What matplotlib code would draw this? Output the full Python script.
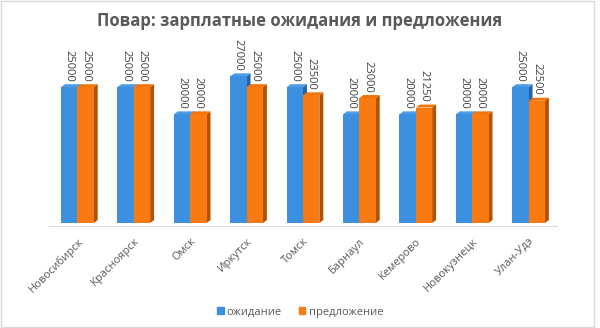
import matplotlib
matplotlib.use("Agg")
import matplotlib.pyplot as plt
import numpy as np
from matplotlib.patches import Rectangle

plt.rcParams["font.family"] = ["Open Sans", "DejaVu Sans"]

cities = ["Новосибирск", "Красноярск", "Омск", "Иркутск", "Томск",
          "Барнаул", "Кемерово", "Новокузнецк", "Улан-Удэ"]
expected = [25000, 25000, 20000, 27000, 25000, 20000, 20000, 20000, 25000]
offered = [25000, 25000, 20000, 25000, 23500, 23000, 21250, 20000, 22500]
series_names = ["ожидание", "предложение"]

# front, side, top colours per series
BLUE = ("#3d8fe0", "#2563a6", "#4f9ce6")
ORANGE = ("#fa7a12", "#b35200", "#f0730c")
TEXT = "#595959"

fig = plt.figure(figsize=(6, 3.28), dpi=100)
ax = fig.add_axes([0.082, 1 - 223 / 328, 0.846, 163 / 328])

x = np.arange(len(cities))
w = 0.29
dx, dy = 0.07, 550  # fake depth for the 3D look

for vals, off, (c, cs, ct) in [(expected, -w / 2, BLUE), (offered, w / 2, ORANGE)]:
    vals = np.array(vals)
    ax.bar(x + off, vals, width=w, color=c, zorder=3)
    for xi, v in zip(x + off, vals):
        r = xi + w / 2
        ax.fill([r, r + dx, r + dx, r], [0, dy, v + dy, v], color=cs, zorder=2, lw=0)
        ax.fill([xi - w / 2, xi - w / 2 + dx, r + dx, r], [v, v + dy, v + dy, v],
                color=ct, zorder=2, lw=0)
        ax.text(xi, v + 1000, str(v), rotation=270, ha="center", va="bottom",
                fontsize=8, color="#404040", clip_on=False)

ax.set_xlim(-0.5, len(cities) - 0.5)
ax.set_ylim(0, 30000)
ax.set_yticks([])
for s in ["left", "right", "top"]:
    ax.spines[s].set_visible(False)
ax.spines["bottom"].set_color("#d9d9d9")
ax.spines["bottom"].set_position(("data", -550))
ax.set_xticks(x)
ax.set_xticklabels(cities, rotation=45, ha="right", va="top",
                   rotation_mode="anchor", fontsize=8, color=TEXT)
ax.tick_params(axis="x", length=0, pad=7)

fig.text(0.5, 0.935, "Повар: зарплатные ожидания и предложения",
         ha="center", va="center", fontsize=12, fontweight="bold", color=TEXT)

handles = [Rectangle((0, 0), 1, 1, color=BLUE[0]), Rectangle((0, 0), 1, 1, color=ORANGE[0])]
fig.legend(handles, series_names, loc="center", bbox_to_anchor=(0.5, 1 - 312 / 328),
           ncol=2, frameon=False, fontsize=8, labelcolor=TEXT,
           handlelength=0.6, handleheight=0.6, handletextpad=0.3, columnspacing=1.5)

fig.patches.append(Rectangle((0.002, 0.002), 593 / 600, 0.994, transform=fig.transFigure,
                             fill=False, edgecolor="#d9d9d9", linewidth=1))

fig.savefig("out.png", dpi=100)
